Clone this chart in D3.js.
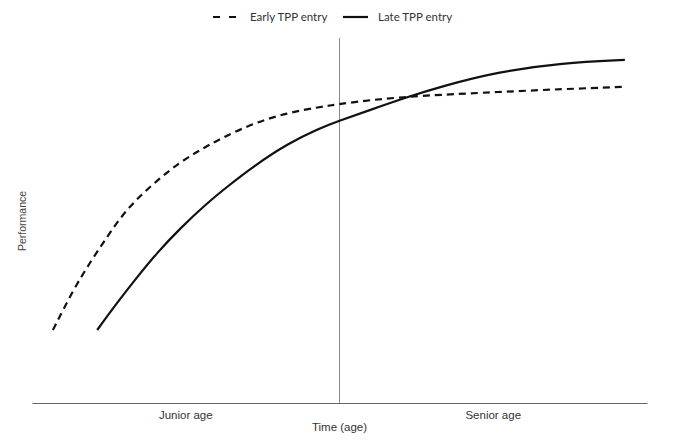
<!DOCTYPE html>
<html><head><meta charset="utf-8">
<script src="https://cdn.jsdelivr.net/npm/d3@7/dist/d3.min.js"></script>
<style>body{margin:0;background:#fff}svg{display:block}text{-webkit-font-smoothing:antialiased}</style>
</head><body>
<svg id="c" width="680" height="445"></svg>
<script>
const phases = ["Junior age", "Senior age"];
const seriesNames = ["Early TPP entry", "Late TPP entry"];
const earlyTime = [3.4, 6.7, 9.4, 12.2, 14.8, 17.6, 20.8, 24.1, 27.3, 30.6, 35.9, 41.5, 46.8, 49.9, 55.0, 60.3, 65.9, 75.6, 86.3, 95.9];
const earlyPerf = [20.0, 31.0, 38.4, 45.5, 51.8, 56.8, 61.6, 66.0, 69.3, 72.4, 76.6, 79.5, 81.1, 81.9, 83.0, 83.8, 84.4, 85.2, 86.0, 86.6];
const lateTime = [10.6, 13.8, 17.1, 20.3, 24.1, 28.5, 31.7, 35.9, 41.5, 46.8, 49.9, 55.0, 61.0, 66.3, 75.6, 86.3, 96.4];
const latePerf = [20.0, 27.4, 34.5, 41.1, 47.9, 54.8, 59.2, 64.7, 71.0, 75.3, 77.3, 80.3, 83.8, 86.6, 90.7, 93.2, 94.0];
const dividerTime = 50;

const svg = d3.select("#c");
const L = 32, R = 647, T = 38, B = 403;
const x = d3.scaleLinear().domain([0, 100]).range([L, R]);
const y = d3.scaleLinear().domain([0, 100]).range([B, T]);
const band = d3.scaleBand().domain(phases).range([L, R]);

// divider
svg.append("line")
  .attr("x1", x(dividerTime)).attr("x2", x(dividerTime))
  .attr("y1", y(100)).attr("y2", y(0))
  .attr("stroke", "#8a8a8a").attr("stroke-width", 1);

// x axis
const ax = svg.append("g").attr("transform", `translate(0,${B})`)
  .call(d3.axisBottom(band).tickSize(0).tickPadding(8));
ax.select(".domain").attr("stroke", "#666").attr("stroke-width", 1.2);
ax.selectAll("text").attr("font-family", "Liberation Sans, Arial, sans-serif")
  .attr("font-size", 11.5).attr("fill", "#333");

svg.append("text").attr("x", (L + R) / 2).attr("y", 431)
  .attr("text-anchor", "middle").attr("font-family", "Liberation Sans, Arial, sans-serif")
  .attr("font-size", 11.5).attr("fill", "#333").text("Time (age)");

svg.append("text").attr("transform", `translate(26,221) rotate(-90)`)
  .attr("text-anchor", "middle").attr("font-family", "Liberation Sans, Arial, sans-serif")
  .attr("font-size", 10.5).attr("fill", "#444").text("Performance");

const line = d3.line().x(d => x(d[0])).y(d => y(d[1])).curve(d3.curveBasis);
const early = earlyTime.map((t, i) => [t, earlyPerf[i]]);
const late = lateTime.map((t, i) => [t, latePerf[i]]);

svg.append("path").datum(early).attr("d", line).attr("fill", "none")
  .attr("stroke", "#111").attr("stroke-width", 2.2).attr("stroke-dasharray", "7,5");
svg.append("path").datum(late).attr("d", line).attr("fill", "none")
  .attr("stroke", "#111").attr("stroke-width", 2.2);

// legend
const lg = svg.append("g").attr("font-family", "Lato, 'Open Sans', sans-serif").attr("font-size", 11.5).attr("fill", "#333");
lg.append("line").attr("x1", 213).attr("x2", 238).attr("y1", 17).attr("y2", 17)
  .attr("stroke", "#111").attr("stroke-width", 2.2).attr("stroke-dasharray", "7,9");
lg.append("text").attr("x", 250).attr("y", 21).text(seriesNames[0]);
lg.append("line").attr("x1", 343).attr("x2", 368).attr("y1", 17).attr("y2", 17)
  .attr("stroke", "#111").attr("stroke-width", 2.2);
lg.append("text").attr("x", 378).attr("y", 21).text(seriesNames[1]);
</script>
</body></html>
